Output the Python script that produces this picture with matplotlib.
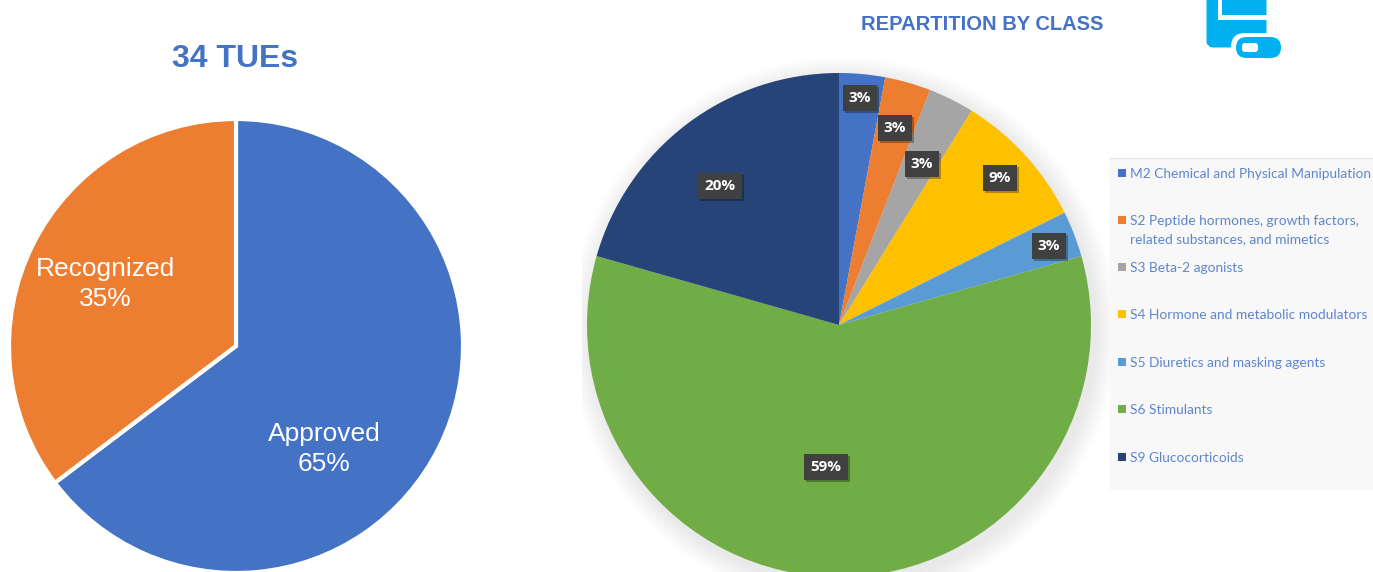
import numpy as np
import matplotlib
matplotlib.use('Agg')
import matplotlib.pyplot as plt
import matplotlib.patches as mpatches

# data, counts out of 34 TUEs
tue_labels = ['Approved', 'Recognized']
tue_counts = [22, 12]
tue_colors = ['#4472C4', '#ED7D31']
tue_pct = ['65%', '35%']

class_labels = ['M2 Chemical and Physical Manipulation',
                'S2 Peptide hormones, growth factors,\nrelated substances, and mimetics',
                'S3 Beta-2 agonists',
                'S4 Hormone and metabolic modulators',
                'S5 Diuretics and masking agents',
                'S6 Stimulants',
                'S9 Glucocorticoids']
class_counts = [1, 1, 1, 3, 1, 20, 7]
class_colors = ['#4472C4', '#ED7D31', '#A5A5A5', '#FFC000', '#5B9BD5', '#70AD47', '#264478']
class_pct = ['3%', '3%', '3%', '9%', '3%', '59%', '20%']

W, H = 1373, 572


def py(y):
    # pixel row in the picture -> y of the axes
    return H - y


fig = plt.figure(figsize=(W / 100, H / 100), dpi=100)
ax = fig.add_axes([0, 0, 1, 1])

# -------------------------------left pie
ax.pie(tue_counts, colors=tue_colors, startangle=90, counterclock=False,
       center=(236, py(346)), radius=227, frame=True,
       wedgeprops=dict(edgecolor='white', linewidth=3))
ax.text(324, py(449), tue_labels[0] + '\n' + tue_pct[0], color='white', fontsize=19,
        family='Liberation Sans', ha='center', va='center', linespacing=1.32)
ax.text(105, py(284), tue_labels[1] + '\n' + tue_pct[1], color='white', fontsize=19,
        family='Liberation Sans', ha='center', va='center', linespacing=1.32)
ax.text(235, py(59), '34 TUEs', color='#4472C4', fontsize=23, fontweight='bold',
        family='Liberation Sans', ha='center', va='center')

# -------------------------------right pie
# soft shadow, cut off at the left like in the source
shadow_clip = mpatches.Rectangle((582, 0), W - 582, H, transform=ax.transData)
for r in np.arange(274, 252, -2):
    c = mpatches.Circle((843, py(331)), r, color='k', alpha=0.008, lw=0, zorder=0.5)
    ax.add_patch(c)
    c.set_clip_path(shadow_clip)

ax.pie(class_counts, colors=class_colors, startangle=90, counterclock=False,
       center=(839, py(325)), radius=252, frame=True)

ax.text(982.5, py(24), 'REPARTITION BY CLASS', color='#4472C4', fontsize=14.5, fontweight='bold',
        family='Liberation Sans', ha='center', va='center')

# labels sit where the source put them by hand
label_pos = [(860, 98), (895, 128), (922, 164), (1000, 178), (1049, 246), (826, 467), (720, 186)]
for txt, (x, y) in zip(class_pct, label_pos):
    ax.text(x + 2, py(y + 2), txt, color='none', fontsize=11, fontweight='bold',
            family='Open Sans', ha='center', va='center', zorder=5,
            bbox=dict(boxstyle='square,pad=0.4', fc='k', ec='none', alpha=0.3))
    ax.text(x, py(y), txt, color='white', fontsize=11, fontweight='bold',
            family='Open Sans', ha='center', va='center', zorder=6,
            bbox=dict(boxstyle='square,pad=0.4', fc='#404040', ec='none'))

# -------------------------------legend panel
ax.add_patch(mpatches.Rectangle((1110, py(490)), 263, 332, fc='#F8F8F8', ec='none', zorder=1))
ax.plot([1110, 1373], [py(158), py(158)], color='#E4E4E4', lw=1, zorder=1.5)
legend_y = [173, 220, 267, 314, 362, 409, 457]
for lab, col, y in zip(class_labels, class_colors, legend_y):
    ax.add_patch(mpatches.Rectangle((1118, py(y + 4)), 8, 8, fc=col, ec='none', zorder=2))
    ax.text(1130, py(y - 5), lab, color='#4472C4', fontsize=9.95, family='Lato',
            ha='left', va='top', zorder=2, linespacing=1.62, alpha=0.85)

# -------------------------------icon
icon = '#00B0F0'
ax.add_patch(mpatches.FancyBboxPatch((1210, py(44)), 53, 60, boxstyle='round,pad=0,rounding_size=3',
                                     fc=icon, ec=icon, lw=5, zorder=2))
ax.add_patch(mpatches.Rectangle((1218, py(20)), 50, 5, fc='white', ec='none', zorder=3))
ax.add_patch(mpatches.Rectangle((1218, py(20)), 4, 24, fc='white', ec='none', zorder=3))
ax.add_patch(mpatches.FancyBboxPatch((1231, py(61)), 52, 28, boxstyle='round,pad=0,rounding_size=14',
                                     fc='white', ec='none', zorder=3))
ax.add_patch(mpatches.FancyBboxPatch((1236, py(58)), 45, 21, boxstyle='round,pad=0,rounding_size=10.5',
                                     fc=icon, ec='none', zorder=4))
ax.add_patch(mpatches.FancyBboxPatch((1242, py(52)), 16, 9, boxstyle='round,pad=0,rounding_size=3',
                                     fc='white', ec='none', zorder=5))

ax.set_xlim(0, W)
ax.set_ylim(0, H)
ax.set_aspect('equal')
ax.axis('off')

plt.savefig('out.png', dpi=100)
